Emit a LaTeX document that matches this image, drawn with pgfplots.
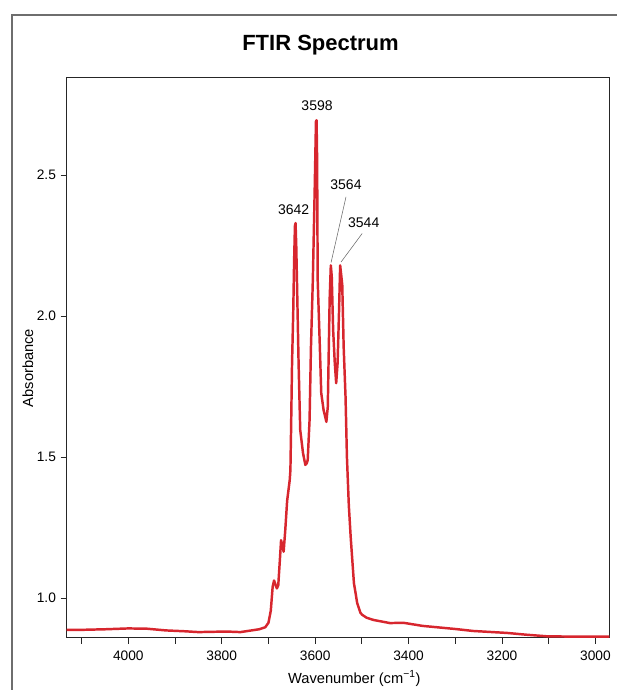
\documentclass[border=0pt]{standalone}
\usepackage{fontspec}
\setmainfont{Liberation Sans}
\usepackage{pgfplots}
\usepackage{pgfplotstable}
\pgfplotsset{compat=1.18}

\definecolor{specred}{HTML}{D7262E}
\definecolor{framegray}{HTML}{6E6E6E}

% FTIR absorbance, wavenumber (cm^-1) vs absorbance
\pgfplotstableread{
w A
4132 0.887
4100 0.887
4050 0.889
4000 0.892
3960 0.891
3920 0.885
3880 0.882
3850 0.879
3820 0.880
3790 0.881
3760 0.879
3740 0.884
3720 0.889
3707 0.896
3700 0.912
3695 0.955
3691 1.040
3688 1.062
3685 1.048
3682 1.034
3679 1.045
3675 1.150
3673 1.205
3670 1.185
3667.5 1.164
3664 1.241
3660 1.345
3657 1.385
3654.5 1.418
3653 1.454
3651.6 1.596
3649.5 1.833
3647 2.011
3645 2.200
3643.3 2.320
3642 2.330
3640.5 2.250
3639 2.128
3635.5 1.833
3632 1.596
3626 1.514
3621 1.472
3618 1.478
3616 1.489
3612 1.631
3609 1.891
3605 2.128
3601 2.450
3598.3 2.690
3597 2.695
3595.8 2.550
3594.6 2.128
3590 1.891
3587 1.727
3582 1.667
3576 1.625
3573 1.678
3571 1.869
3569 2.060
3566.5 2.180
3564.5 2.140
3561.5 1.950
3558 1.833
3555 1.762
3552 1.833
3549 2.011
3546.5 2.180
3544.5 2.150
3542 2.110
3539 1.891
3535 1.714
3532 1.500
3528 1.330
3524 1.217
3517 1.052
3510 0.982
3503 0.947
3499 0.940
3490 0.930
3475 0.922
3440 0.911
3411 0.912
3370 0.901
3300 0.890
3262 0.883
3189 0.876
3150 0.870
3103 0.864
3050 0.863
2970 0.863
}\spectrum

\begin{document}
\begin{tikzpicture}
\path[use as bounding box] (0,0) rectangle (462.75pt,517.5pt);
\draw[framegray, line width=1.9pt] (9pt,-3pt) -- (9pt,506.25pt) -- (466pt,506.25pt);
\node[font=\bfseries\fontsize{16.5}{19}\selectfont] at (240.4pt,483.75pt) {FTIR Spectrum};

\begin{axis}[
    at={(50pt,39.2pt)}, anchor=south west,
    scale only axis,
    width=407.1pt, height=420.5pt,
    x dir=reverse,
    xmin=2970, xmax=4132,
    ymin=0.859, ymax=2.848,
    xtick={3000,3200,...,4000},
    minor xtick={3100,3300,...,4100},
    ytick={1.0,1.5,2.0,2.5},
    tick pos=left,
    tick align=outside,
    major tick length=4.5pt, minor tick length=4.5pt,
    every tick/.style={black!85, line width=0.6pt},
    every minor tick/.style={black!85, line width=0.6pt},
    axis line style={black!85, line width=0.6pt},
    ticklabel style={font=\fontsize{10.3}{12}\selectfont},
    /pgf/number format/assume math mode=true,
    xticklabel style={/pgf/number format/1000 sep={}, yshift=-2pt},
    yticklabel style={/pgf/number format/.cd, fixed, fixed zerofill, precision=1},
    xlabel={Wavenumber (cm\textsuperscript{\char"2212 1})},
    ylabel={Absorbance},
    xlabel style={at={(axis description cs:0.530,-0.0726)}, anchor=center, font=\fontsize{11}{13}\selectfont},
    ylabel style={at={(axis description cs:-0.0713,0.481)}, anchor=center, font=\fontsize{11}{13}\selectfont},
]
\addplot[specred, line width=1.85pt, line join=round, no markers] table[x=w, y=A] {\spectrum};

\node[font=\fontsize{10.5}{12}\selectfont] at (axis cs:3596,2.745) {3598};
\node[font=\fontsize{10.5}{12}\selectfont] at (axis cs:3646,2.379) {3642};
\node[font=\fontsize{10.5}{12}\selectfont] at (axis cs:3534,2.465) {3564};
\node[font=\fontsize{10.5}{12}\selectfont] at (axis cs:3496,2.332) {3544};
\draw[black!60, line width=0.4pt] (axis cs:3534,2.423) -- (axis cs:3566,2.190);
\draw[black!60, line width=0.4pt] (axis cs:3499.4,2.293) -- (axis cs:3544.5,2.192);
\end{axis}
\end{tikzpicture}
\end{document}
